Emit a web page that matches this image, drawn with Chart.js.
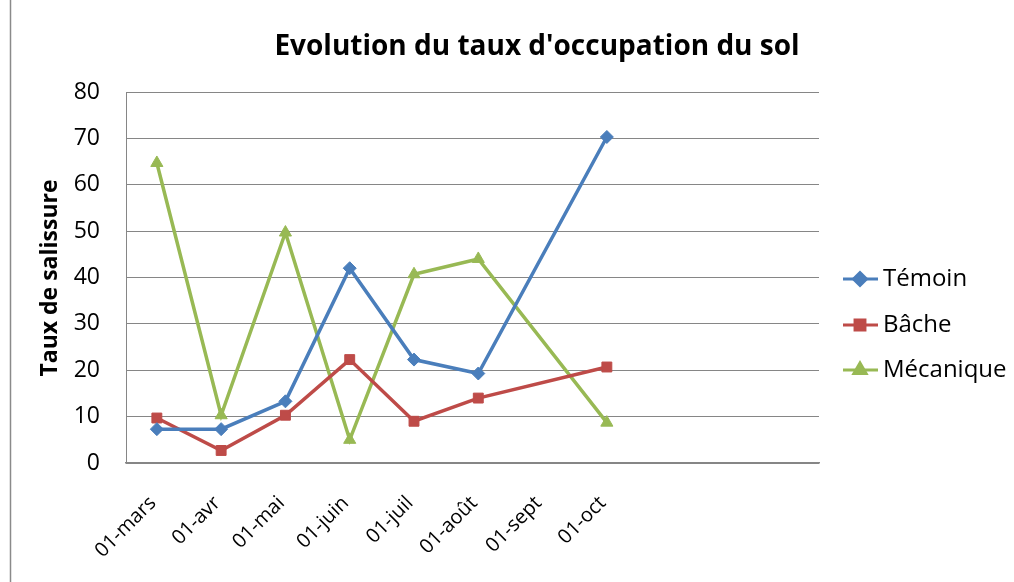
<!DOCTYPE html>
<html><head><meta charset="utf-8">
<script src="https://cdn.jsdelivr.net/npm/chart.js@4"></script>
<style>html,body{margin:0;padding:0;background:#fff}#w{width:1014px;height:582px}</style>
</head><body><div id="w"><canvas id="c" width="1014" height="582"></canvas></div>
<script>
const categories = ["01-mars","01-avr","01-mai","01-juin","01-juil","01-août","01-sept","01-oct"];
const temoin    = [7.3, 7.3, 13.3, 42, 22.3, 19.3, null, 70.3];
const bache     = [9.7, 2.7, 10.3, 22.3, 9, 14, null, 20.7];
const mecanique = [64.7, 10.3, 49.7, 5, 40.7, 44, null, 8.7];
const yTicks = [0,10,20,30,40,50,60,70,80];
const seriesNames = ["Témoin","Bâche","Mécanique"];
const colors = ["#4A7EBB","#BE4B48","#98B954"];
const styles = ["rectRot","rect","triangle"];
const FONT = "'Open Sans', 'Liberation Sans', sans-serif";

const pts = v => categories.map((c,i)=>({x:i,y:v[i]}));

const deco = {
  id:'deco',
  afterDraw(chart){
    const ctx = chart.ctx;
    ctx.save();
    // frame line
    ctx.strokeStyle = '#8a8a8a'; ctx.lineWidth = 1.5;
    ctx.beginPath(); ctx.moveTo(10.5,0); ctx.lineTo(10.5,582); ctx.stroke();
    // title
    ctx.fillStyle = '#000';
    ctx.font = "bold 28px " + FONT;
    ctx.textAlign = 'center'; ctx.textBaseline = 'middle';
    ctx.fillText("Evolution du taux d'occupation du sol", 537, 47);
    // y title
    ctx.save();
    ctx.translate(50, 278); ctx.rotate(-Math.PI/2);
    ctx.font = "bold 23px " + FONT;
    ctx.fillText("Taux de salissure", 0, 0);
    ctx.restore();
    // x labels
    const xs = chart.scales.x;
    ctx.font = "20px " + FONT;
    ctx.textAlign = 'right'; ctx.textBaseline = 'middle';
    categories.forEach((c,i)=>{
      const px = xs.getPixelForValue(i);
      ctx.save();
      ctx.translate(px - 4, 500);
      ctx.rotate(-Math.PI/4);
      ctx.fillText(c, 0, 0);
      ctx.restore();
    });
    // legend
    const rows = [279, 325, 370];
    chart.data.datasets.forEach((ds,i)=>{
      const y = rows[i];
      ctx.strokeStyle = ds.borderColor; ctx.lineWidth = 3;
      ctx.beginPath(); ctx.moveTo(843,y); ctx.lineTo(878,y); ctx.stroke();
      Chart.helpers.drawPoint(ctx, {pointStyle: ds.pointStyle, radius: ds.pointRadius, borderWidth:1}, 860, y);
      ctx.fillStyle = ds.borderColor; ctx.fill();
      ctx.fillStyle = '#000';
      ctx.font = "24px " + FONT;
      ctx.textAlign = 'left'; ctx.textBaseline = 'middle';
      ctx.fillText(ds.label, 883, y);
    });
    ctx.restore();
  }
};

new Chart(document.getElementById('c'), {
  type:'line',
  data:{
    datasets:[temoin,bache,mecanique].map((v,i)=>({
      label: seriesNames[i],
      data: pts(v),
      borderColor: colors[i],
      backgroundColor: colors[i],
      borderWidth: 3.5,
      pointStyle: styles[i],
      pointRadius: i===0?6.5:7,
      pointBorderWidth: 1,
      spanGaps: true,
      tension: 0
    }))
  },
  options:{
    responsive:false,
    animation:false,
    layout:{padding:{left:0,top:92,right:195,bottom:0}},
    plugins:{legend:{display:false},tooltip:{enabled:false}},
    scales:{
      x:{
        type:'linear', min:-0.48, max:10.3,
        afterBuildTicks(s){ s.ticks = categories.map((c,i)=>({value:i})); },
        afterFit(s){ s.height = 119; },
        grid:{display:false},
        border:{display:true,color:'#868686',width:1.5},
        ticks:{display:false}
      },
      y:{
        min:0, max:80,
        afterBuildTicks(s){ s.ticks = yTicks.map(v=>({value:v})); },
        afterFit(s){ s.width = 126; },
        grid:{color:'#868686', lineWidth:1, drawTicks:false},
        border:{display:true,color:'#868686',width:1},
        ticks:{padding:26, color:'#000', font:{family:FONT,size:23}}
      }
    }
  },
  plugins:[deco]
});
</script></body></html>
